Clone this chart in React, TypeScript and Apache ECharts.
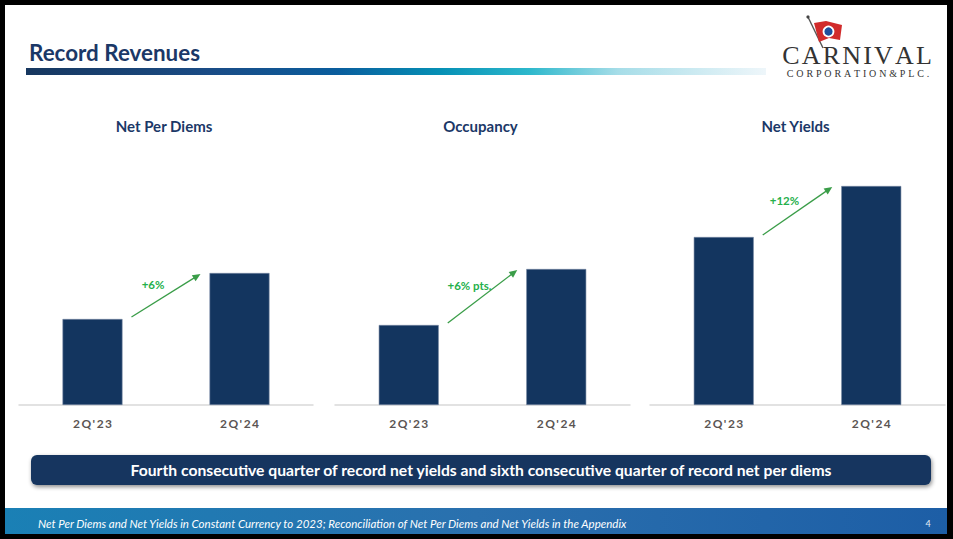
import React, { useEffect, useRef } from "react";
import * as echarts from "echarts";

// ---- data ----
const categories = ["2Q'23", "2Q'24"];
const panelTitles = ["Net Per Diems", "Occupancy", "Net Yields"];
// relative bar heights (axis is truncated in the original; no values are printed)
const netPerDiems = [86, 132];
const occupancy = [80, 136];
const netYields = [168, 219];
const changeLabels = ["+6%", "+6% pts.", "+12%"];
const headline = "Record Revenues";
const bannerText =
  "Fourth consecutive quarter of record net yields and sixth consecutive quarter of record net per diems";
const footnote =
  "Net Per Diems and Net Yields in Constant Currency to 2023; Reconciliation of Net Per Diems and Net Yields in the Appendix";
const pageNumber = "4";
const logoName = "CARNIVAL";
const logoSub = "CORPORATION&PLC.";

const FONT = "Lato, 'Open Sans', sans-serif";
const NAVY = "#13355f";
const GREEN_LINE = "#3a9d48";
const GREEN_TEXT = "#25b04c";

export default function App() {
  const ref = useRef<HTMLDivElement>(null);

  useEffect(() => {
    if (!ref.current) return;
    const chart = echarts.init(ref.current, null, { renderer: "svg" });
    const seriesData = [netPerDiems, occupancy, netYields];
    const gridBoxes = [
      { left: 19, width: 294 },
      { left: 335, width: 295 },
      { left: 650, width: 295 },
    ];
    const grids = gridBoxes.map((g) => ({ ...g, top: 150, height: 255 }));

    chart.setOption({
      animation: false,
      backgroundColor: "#000",
      grid: grids,
      xAxis: grids.map((_, i) => ({
        type: "category",
        gridIndex: i,
        data: categories,
        axisLine: { show: true, lineStyle: { color: "#d9d9d9", width: 1.5 } },
        axisTick: { show: false },
        axisLabel: {
          margin: 12,
          fontFamily: FONT,
          fontWeight: "bold",
          fontSize: 12,
          color: "#5b5553",
          formatter: (v: string) => v.split("").join("\u2009"),
        },
      })),
      yAxis: grids.map((_, i) => ({
        type: "value",
        gridIndex: i,
        min: 0,
        max: 255,
        show: false,
        splitLine: { show: false },
      })),
      series: seriesData.map((d, i) => ({
        type: "bar",
        xAxisIndex: i,
        yAxisIndex: i,
        data: d,
        barWidth: 60,
        itemStyle: { color: NAVY, borderColor: "#7788a3", borderWidth: 0.6 },
        silent: true,
      })),
    });

    const graphics: any[] = [];
    // white slide
    graphics.push({
      type: "rect",
      z: -10,
      silent: true,
      shape: { x: 5, y: 5, width: 942, height: 529 },
      style: { fill: "#ffffff" },
    });
    // headline
    graphics.push({
      type: "text",
      x: 29,
      y: 52,
      style: {
        text: headline,
        font: `bold 22.4px ${FONT}`,
        fill: "#1b3867",
        textVerticalAlign: "middle",
      },
    });
    // gradient rule
    graphics.push({
      type: "rect",
      shape: { x: 26, y: 68, width: 740, height: 7 },
      style: {
        fill: new echarts.graphic.LinearGradient(0, 0, 1, 0, [
          { offset: 0, color: "#17375f" },
          { offset: 0.25, color: "#1a4c86" },
          { offset: 0.42, color: "#0a5d9d" },
          { offset: 0.56, color: "#0690b5" },
          { offset: 0.68, color: "#2db8cc" },
          { offset: 0.8, color: "#a6dde8" },
          { offset: 1, color: "#eef6fa" },
        ]),
      },
    });
    // logo
    graphics.push({
      type: "line",
      shape: { x1: 808, y1: 17, x2: 823, y2: 48 },
      style: { stroke: "#555", lineWidth: 1.4 },
    });
    graphics.push({
      type: "circle",
      shape: { cx: 808, cy: 17, r: 1.6 },
      style: { fill: "#444" },
    });
    graphics.push({
      type: "polygon",
      shape: {
        points: [
          [814, 23],
          [826, 21],
          [842, 25],
          [840, 40],
          [829, 38],
          [819, 42],
        ],
      },
      style: { fill: "#d12b2b" },
    });
    graphics.push({
      type: "circle",
      shape: { cx: 828.5, cy: 31.5, r: 5 },
      style: { fill: "#1d4f9d", stroke: "#fff", lineWidth: 1.8 },
    });
    graphics.push({
      type: "text",
      x: 857,
      y: 55,
      style: {
        text: logoName.split("").join("\u200A"),
        font: `26px 'Liberation Serif', 'DejaVu Serif', serif`,
        fill: "#333",
        textAlign: "center",
        textVerticalAlign: "middle",
      },
    });
    graphics.push({
      type: "text",
      x: 858,
      y: 73.5,
      style: {
        text: logoSub.split("").join("\u2009\u200A"),
        font: `10px 'Liberation Serif', 'DejaVu Serif', serif`,
        fill: "#333",
        textAlign: "center",
        textVerticalAlign: "middle",
      },
    });
    // panel titles
    grids.forEach((g, i) => {
      graphics.push({
        type: "text",
        x: g.left + g.width / 2 - 2,
        y: 126,
        style: {
          text: panelTitles[i],
          font: `bold 15px ${FONT}`,
          fill: "#1b3867",
          textAlign: "center",
          textVerticalAlign: "middle",
        },
      });
    });
    // arrows
    seriesData.forEach((d, i) => {
      const p1 = chart.convertToPixel({ gridIndex: i }, [0, d[0]]) as number[];
      const p2 = chart.convertToPixel({ gridIndex: i }, [1, d[1]]) as number[];
      const sx = p1[0] + 39;
      const sy = p1[1] - 2;
      const ex = p2[0] - 39;
      const ey = p2[1] + 1;
      const dx = ex - sx;
      const dy = ey - sy;
      const len = Math.sqrt(dx * dx + dy * dy);
      const ux = dx / len;
      const uy = dy / len;
      const nx = -uy;
      const ny = ux;
      const hl = 8;
      const hw = 3.6;
      graphics.push({
        type: "line",
        shape: { x1: sx, y1: sy, x2: ex - ux * 6, y2: ey - uy * 6 },
        style: { stroke: GREEN_LINE, lineWidth: 1.3 },
      });
      graphics.push({
        type: "polygon",
        shape: {
          points: [
            [ex, ey],
            [ex - ux * hl + nx * hw, ey - uy * hl + ny * hw],
            [ex - ux * hl - nx * hw, ey - uy * hl - ny * hw],
          ],
        },
        style: { fill: GREEN_LINE },
      });
      graphics.push({
        type: "text",
        x: (sx + ex) / 2 - 13,
        y: (sy + ey) / 2 - 11,
        style: {
          text: changeLabels[i],
          font: `bold 11.5px ${FONT}`,
          fill: GREEN_TEXT,
          textAlign: "center",
          textVerticalAlign: "middle",
        },
      });
    });
    // banner
    graphics.push({
      type: "rect",
      shape: { x: 31, y: 455, width: 900, height: 30, r: 6 },
      style: {
        fill: "#14365f",
        shadowBlur: 4,
        shadowOffsetX: 1,
        shadowOffsetY: 2,
        shadowColor: "rgba(0,0,0,0.45)",
      },
    });
    graphics.push({
      type: "text",
      x: 481,
      y: 470,
      style: {
        text: bannerText,
        font: `bold 15.7px ${FONT}`,
        fill: "#ffffff",
        textAlign: "center",
        textVerticalAlign: "middle",
      },
    });
    // footer band
    graphics.push({
      type: "rect",
      shape: { x: 5, y: 508, width: 942, height: 26 },
      style: {
        fill: new echarts.graphic.LinearGradient(0, 0, 1, 0, [
          { offset: 0, color: "#1a80b5" },
          { offset: 0.5, color: "#2a70ae" },
          { offset: 1, color: "#1d5ea6" },
        ]),
      },
    });
    graphics.push({
      type: "text",
      x: 38,
      y: 523,
      style: {
        text: footnote,
        font: `italic 11.5px ${FONT}`,
        fill: "#ffffff",
        textVerticalAlign: "middle",
      },
    });
    graphics.push({
      type: "text",
      x: 928,
      y: 523,
      style: {
        text: pageNumber,
        font: `9px ${FONT}`,
        fill: "#e8f0f8",
        textAlign: "center",
        textVerticalAlign: "middle",
      },
    });

    chart.setOption({ graphic: graphics });

    return () => chart.dispose();
  }, []);

  return (
    <div
      ref={ref}
      style={{ position: "fixed", left: 0, top: 0, width: 953, height: 539, background: "#000" }}
    />
  );
}
